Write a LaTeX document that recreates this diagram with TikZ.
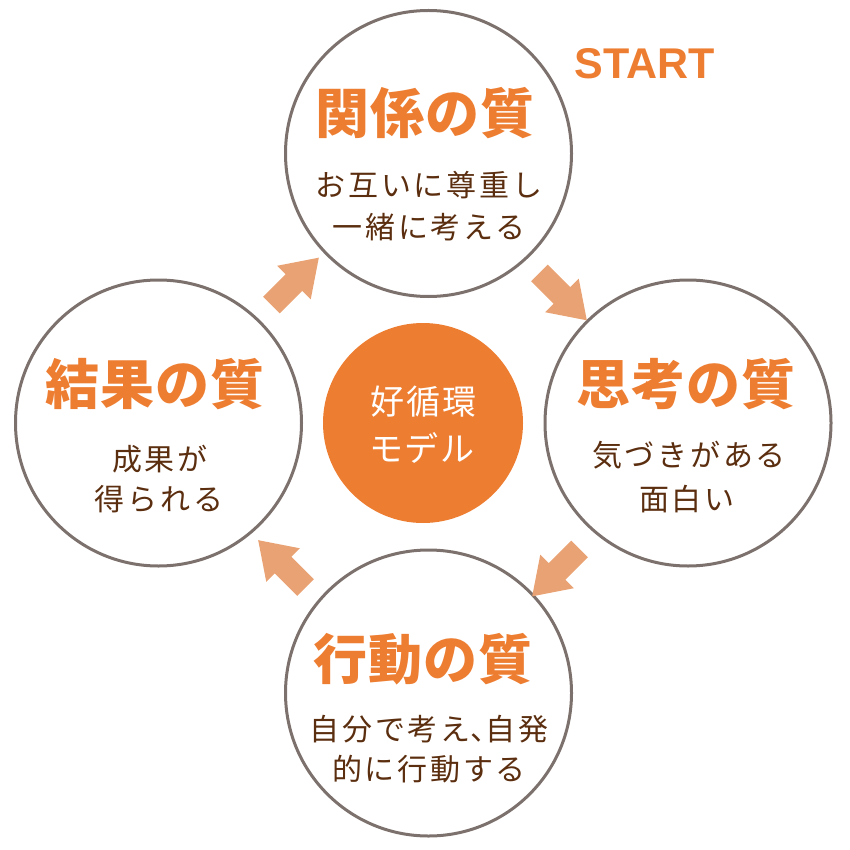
\documentclass[tikz,border=0pt]{standalone}
\usepackage{fontspec}
\usetikzlibrary{shapes.arrows}
\newfontfamily\jpt{Noto Sans CJK JP}[LetterSpace=2]
\newfontfamily\jpr{Noto Sans CJK JP}[LetterSpace=9]
\newfontfamily\jpc{Noto Sans CJK JP}[LetterSpace=5]
\newfontfamily\latb{Liberation Sans}
\definecolor{qorange}{HTML}{ED7D31}
\definecolor{arrorange}{HTML}{E9A273}
\definecolor{ringgray}{HTML}{7C716C}
\definecolor{tbrown}{HTML}{5B2E0F}
\begin{document}
\begin{tikzpicture}[x=1pt,y=-1pt,
  ring/.style={circle, draw=ringgray, line width=3pt, minimum size=286pt, inner sep=0pt},
  ttl/.style={text=qorange, font=\jpt\bfseries\fontsize{54}{60}\selectfont, inner sep=0pt},
  body/.style={text=tbrown, font=\jpr\fontsize{30}{36}\selectfont, inner sep=0pt},
  ctext/.style={text=white, font=\jpc\fontsize{34}{40}\selectfont, inner sep=0pt},
  blockarr/.style={single arrow, fill=arrorange, draw=none, minimum height=67pt,
    inner xsep=0pt, inner ysep=11.5pt, single arrow head extend=12pt,
    single arrow tip angle=68, single arrow head indent=0pt}
]
\useasboundingbox (0,0) rectangle (850,850);

% circles
\node[ring] (top) at (428.5,153.5) {};
\node[ring] (right) at (688,423) {};
\node[ring] (left) at (158.5,423) {};
\node[ring] (bottom) at (428.5,693) {};
\node[circle, fill=qorange, minimum size=200pt, inner sep=0pt] (hub) at (423,423) {};

% START
\node[text=qorange, font=\latb\bfseries\fontsize{43}{48}\selectfont, inner sep=0pt] (start) at (644.5,64) {START};

% titles
\node[ttl] (ttop) at (425,113) {関係の質};
\node[ttl] (tright) at (686,384) {思考の質};
\node[ttl] (tleft) at (155,384) {結果の質};
\node[ttl] (tbottom) at (423,659) {行動の質};

% bodies
\node[body] (btop1) at (429,185) {お互いに尊重し};
\node[body] (btop2) at (429,227) {一緒に考える};
\node[body] (bright1) at (689,455) {気づきがある};
\node[body] (bright2) at (687,499) {面白い};
\node[body] (bleft1) at (160,459) {成果が};
\node[body] (bleft2) at (159,499) {得られる};
\node[body] (bbot1) at (429,729) {自分で考え\makebox[0.5em][l]{、}自発};
\node[body] (bbot2) at (429,769) {的に行動する};

% hub text
\node[ctext] (h1) at (423.5,402) {好循環};
\node[ctext] (h2) at (422,448) {モデル};

% arrows
\node[blockarr, rotate=45] (a1) at (289,287.5) {};
\node[blockarr, rotate=-45] (a2) at (557,290.5) {};
\node[blockarr, rotate=-135] (a3) at (562,566.5) {};
\node[blockarr, rotate=135] (a4) at (288,570) {};
\end{tikzpicture}
\end{document}
